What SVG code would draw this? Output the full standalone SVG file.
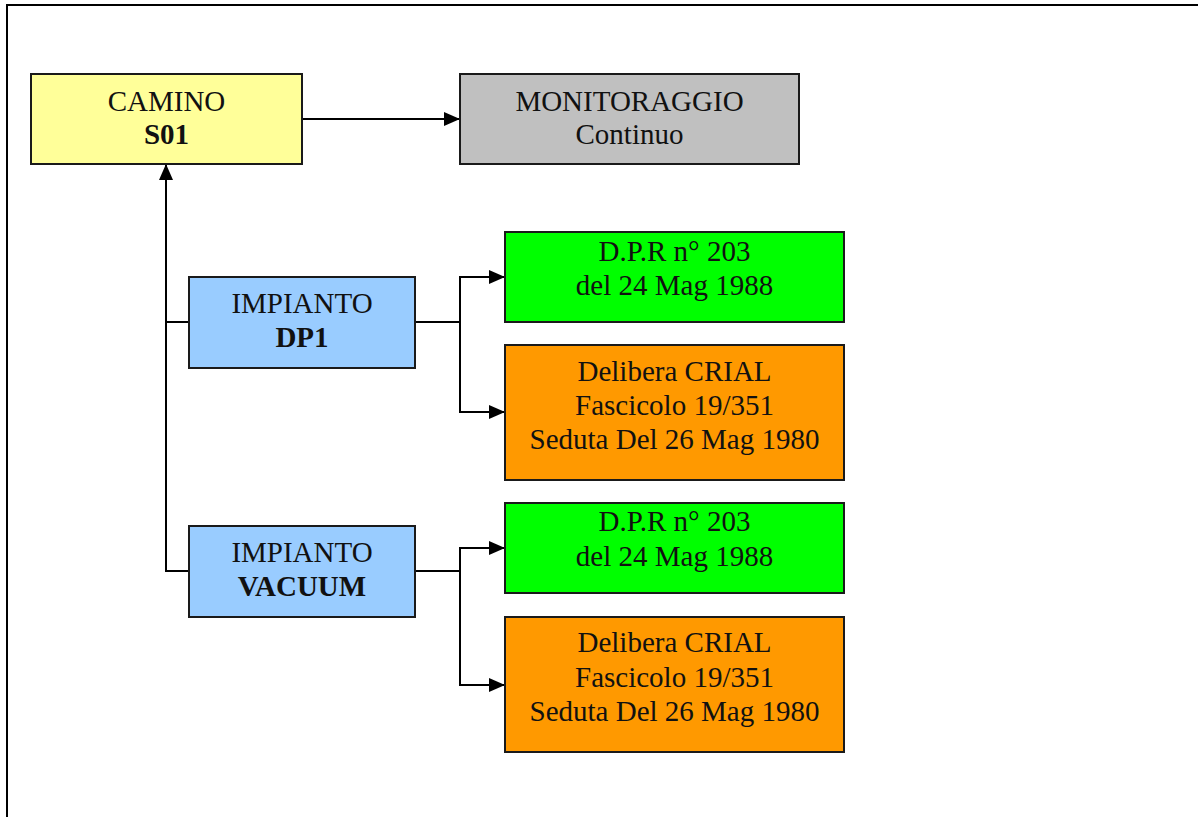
<svg xmlns="http://www.w3.org/2000/svg" width="1198" height="817" viewBox="0 0 1198 817">
<style>
.box{stroke:#1a1a1a;stroke-width:2}
.t{font-family:"Liberation Serif","Times New Roman",serif;font-size:29px;fill:#111;text-anchor:middle}
.b{font-weight:bold}
.c{fill:none;stroke:#000;stroke-width:2}
</style>
<defs>
<marker id="ah" markerWidth="16" markerHeight="14" refX="16" refY="7" orient="auto" markerUnits="userSpaceOnUse">
<path d="M0,0 L16,7 L0,14 Z" fill="#000"/>
</marker>
</defs>
<rect width="1198" height="817" fill="#fff"/>
<path d="M7,817 V5 H1198" fill="none" stroke="#000" stroke-width="2"/>
<g id="connectors">
<path class="c" d="M302,119 H460" marker-end="url(#ah)"/>
<path class="c" d="M189,571 H166 V164" marker-end="url(#ah)"/>
<path class="c" d="M166,322 H189"/>
<path class="c" d="M415,322 H460 V277 H505" marker-end="url(#ah)"/>
<path class="c" d="M460,322 V412 H505" marker-end="url(#ah)"/>
<path class="c" d="M415,571 H460 V548 H505" marker-end="url(#ah)"/>
<path class="c" d="M460,571 V685 H505" marker-end="url(#ah)"/>
</g>
<g id="camino">
<rect class="box" x="31" y="74" width="271" height="90" fill="#ffff99"/>
<text class="t" x="166.5" y="111">CAMINO</text>
<text class="t b" x="166.5" y="144">S01</text>
</g>
<g id="monitoraggio">
<rect class="box" x="460" y="74" width="339" height="90" fill="#c0c0c0"/>
<text class="t" x="629.5" y="111">MONITORAGGIO</text>
<text class="t" x="629.5" y="144">Continuo</text>
</g>
<g id="impianto-dp1">
<rect class="box" x="189" y="277" width="226" height="91" fill="#99ccff"/>
<text class="t" x="302" y="313">IMPIANTO</text>
<text class="t b" x="302" y="347">DP1</text>
</g>
<g id="dpr1">
<rect class="box" x="505" y="232" width="339" height="90" fill="#00ff00"/>
<text class="t" x="674.5" y="261">D.P.R n° 203</text>
<text class="t" x="674.5" y="295">del 24 Mag 1988</text>
</g>
<g id="crial1">
<rect class="box" x="505" y="345" width="339" height="135" fill="#ff9900"/>
<text class="t" x="674.5" y="381">Delibera CRIAL</text>
<text class="t" x="674.5" y="415">Fascicolo 19/351</text>
<text class="t" x="674.5" y="449">Seduta Del 26 Mag 1980</text>
</g>
<g id="impianto-vacuum">
<rect class="box" x="189" y="526" width="226" height="91" fill="#99ccff"/>
<text class="t" x="302" y="562">IMPIANTO</text>
<text class="t b" x="302" y="596">VACUUM</text>
</g>
<g id="dpr2">
<rect class="box" x="505" y="503" width="339" height="90" fill="#00ff00"/>
<text class="t" x="674.5" y="531">D.P.R n° 203</text>
<text class="t" x="674.5" y="566">del 24 Mag 1988</text>
</g>
<g id="crial2">
<rect class="box" x="505" y="617" width="339" height="135" fill="#ff9900"/>
<text class="t" x="674.5" y="652">Delibera CRIAL</text>
<text class="t" x="674.5" y="687">Fascicolo 19/351</text>
<text class="t" x="674.5" y="721">Seduta Del 26 Mag 1980</text>
</g>
</svg>
